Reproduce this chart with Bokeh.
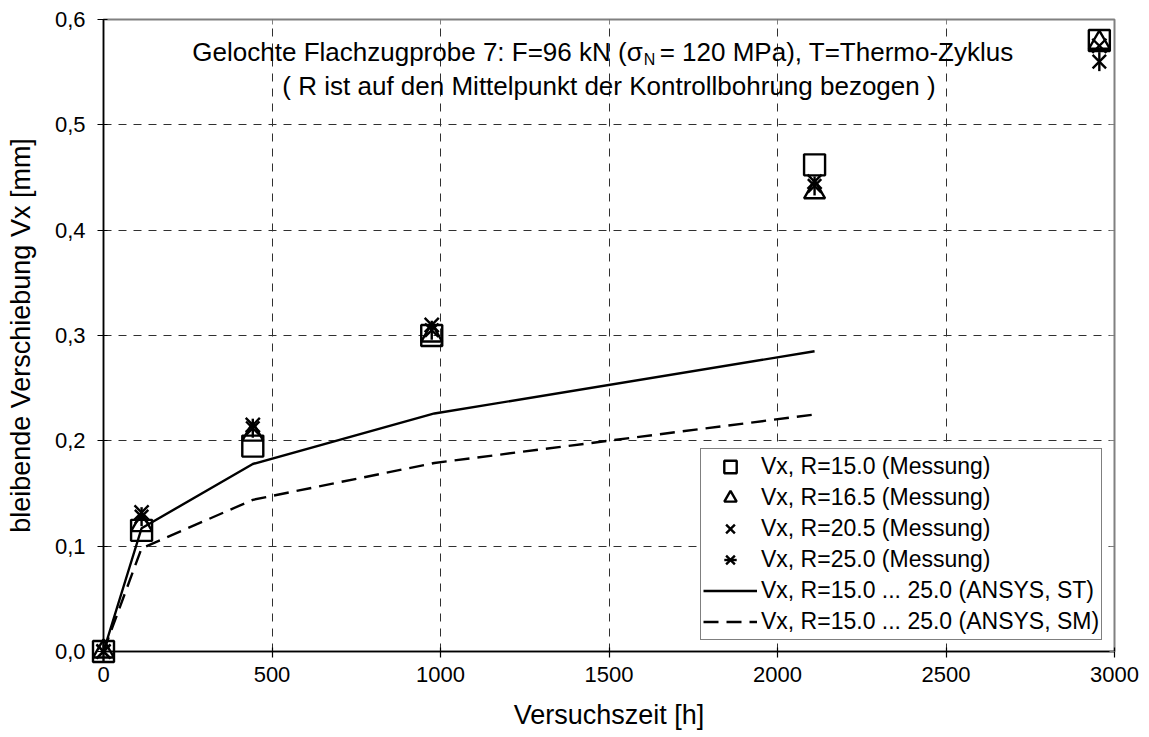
import math
from bokeh.plotting import figure
from bokeh.models import (Range1d, FixedTicker, LinearAxis, Legend, LegendItem)
from bokeh.core.properties import value
from bokeh.embed import file_html
from bokeh.resources import INLINE

# ---------------- data ----------------
t_mess = [0, 113, 443, 974, 2110, 2955]
v_r150 = [0.0, 0.115, 0.195, 0.300, 0.462, 0.580]
v_r165 = [0.0, 0.120, 0.206, 0.300, 0.436, 0.578]
v_r205 = [0.0, 0.132, 0.215, 0.310, 0.446, 0.575]
v_r250 = [0.0, 0.128, 0.212, 0.305, 0.442, 0.560]

t_ansys = [0, 113, 443, 982, 2110]
v_st = [0.0, 0.117, 0.178, 0.226, 0.285]
v_sm = [0.0, 0.098, 0.144, 0.179, 0.225]

x_ticks = [0, 500, 1000, 1500, 2000, 2500, 3000]
y_ticks = [0.0, 0.1, 0.2, 0.3, 0.4, 0.5, 0.6]
y_tick_labels = ["0,0", "0,1", "0,2", "0,3", "0,4", "0,5", "0,6"]

labels = [
    "Vx, R=15.0 (Messung)",
    "Vx, R=16.5 (Messung)",
    "Vx, R=20.5 (Messung)",
    "Vx, R=25.0 (Messung)",
    "Vx, R=15.0 ... 25.0 (ANSYS, ST)",
    "Vx, R=15.0 ... 25.0 (ANSYS, SM)",
]
title1_a = "Gelochte Flachzugprobe 7: F=96 kN (σ"
title1_sub = "N"
title1_b = " = 120 MPa), T=Thermo-Zyklus"
title2 = "( R ist auf den Mittelpunkt der Kontrollbohrung bezogen )"

FONT = "Liberation Sans"

p = figure(width=1149, height=737, output_backend="svg", toolbar_location=None,
           x_range=Range1d(0, 3000), y_range=Range1d(0, 0.6),
           min_border_left=103, min_border_right=35, min_border_top=19,
           min_border_bottom=86)
p.background_fill_color = "white"
p.border_fill_color = "white"
p.outline_line_color = "#808080"
p.outline_line_width = 2

for ax in (p.xaxis[0], p.yaxis[0]):
    ax.axis_line_color = "black"
    ax.axis_line_width = 1.5
    ax.major_tick_line_color = "black"
    ax.major_tick_line_width = 1.2
    ax.major_tick_in = 4
    ax.major_tick_out = 6
    ax.minor_tick_line_color = None
    ax.major_label_text_font = FONT
    ax.major_label_text_font_size = "22px"
    ax.major_label_text_color = "black"
    ax.axis_label_text_font = FONT
    ax.axis_label_text_font_size = "27px"
    ax.axis_label_text_font_style = "normal"
    ax.axis_label_text_color = "black"

p.xaxis.ticker = FixedTicker(ticks=x_ticks)
p.yaxis.ticker = FixedTicker(ticks=y_ticks)
p.yaxis.major_label_overrides = {t: l for t, l in zip(y_ticks, y_tick_labels)}
p.xaxis.axis_label = "Versuchszeit [h]"
p.yaxis.axis_label = "bleibende Verschiebung Vx [mm]"
p.xaxis.major_label_standoff = 9
p.yaxis.major_label_standoff = 12
p.xaxis.axis_label_standoff = 15
p.yaxis.axis_label_standoff = 16

# small inward ticks on top and right border (no labels)
top_ax = LinearAxis(ticker=FixedTicker(ticks=x_ticks), axis_line_color=None,
                    major_tick_in=5, major_tick_out=0, major_tick_line_color="#808080",
                    minor_tick_line_color=None, major_label_standoff=0,
                    major_label_overrides={t: "" for t in x_ticks})
right_ax = LinearAxis(ticker=FixedTicker(ticks=y_ticks), axis_line_color=None,
                      major_tick_in=5, major_tick_out=0, major_tick_line_color="#808080",
                      minor_tick_line_color=None, major_label_standoff=0,
                      major_label_overrides={t: "" for t in y_ticks})
p.add_layout(top_ax, "above")
p.add_layout(right_ax, "right")

p.xgrid.ticker = FixedTicker(ticks=x_ticks[1:-1])
p.ygrid.ticker = FixedTicker(ticks=y_ticks[1:-1])
for g in (p.xgrid[0], p.ygrid[0]):
    g.grid_line_color = "#303030"
    g.grid_line_width = 1
    g.grid_line_dash = "8 7"

# lines
r_st = p.line(t_ansys, v_st, line_color="black", line_width=2.4)
r_sm = p.line(t_ansys, v_sm, line_color="black", line_width=2.4, line_dash="15 8")

# markers
common = dict(fill_color=None, line_color="black", line_width=2.4, level="overlay")
r1 = p.scatter(t_mess, v_r150, marker="square", size=21, **common)
r2 = p.scatter(t_mess, v_r165, marker="triangle", size=21, **common)
r3 = p.scatter(t_mess, v_r205, marker="x", size=20, **common)
r4a = p.scatter(t_mess, v_r250, marker="x", size=19, **common)
r4b = p.scatter(t_mess, v_r250, marker="dash", size=19, angle=math.pi / 2, **common)

legend = Legend(items=[LegendItem(label=labels[0], renderers=[r1]),
                       LegendItem(label=labels[1], renderers=[r2]),
                       LegendItem(label=labels[2], renderers=[r3]),
                       LegendItem(label=labels[3], renderers=[r4a, r4b]),
                       LegendItem(label=labels[4], renderers=[r_st]),
                       LegendItem(label=labels[5], renderers=[r_sm])],
                location=(597, 11), orientation="vertical",
                border_line_color="black", border_line_width=1.5,
                background_fill_color="white", background_fill_alpha=1,
                label_text_font=FONT, label_text_font_size="23px",
                label_text_color="black",
                glyph_width=54, glyph_height=31, label_height=31,
                label_standoff=4, padding=2, spacing=0, margin=0)
p.add_layout(legend, "center")

# titles inside the plot (text glyphs)
tf = value(FONT)
anchor_x = 1600
p.text(x=[anchor_x], y=[0.569], text=[title1_a], text_align="right", text_baseline="middle",
       text_font=tf, text_font_size="26px", text_color="black")
p.text(x=[anchor_x], y=[0.569], text=[title1_sub], text_align="left", text_baseline="middle",
       text_font=tf, text_font_size="16px", text_color="black", x_offset=1, y_offset=7)
p.text(x=[anchor_x], y=[0.569], text=[title1_b], text_align="left", text_baseline="middle",
       text_font=tf, text_font_size="26px", text_color="black", x_offset=17)
p.text(x=[1500], y=[0.5366], text=[title2], text_align="center", text_baseline="middle",
       text_font=tf, text_font_size="26px", text_color="black")

open("out.html", "w").write(file_html(p, INLINE))
